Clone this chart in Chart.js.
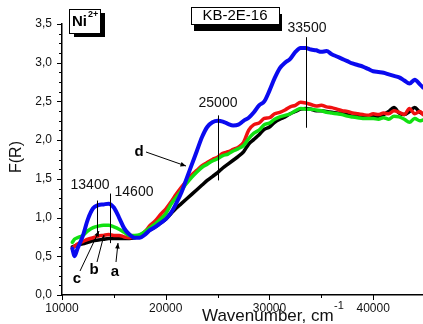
<!DOCTYPE html>
<html>
<head>
<meta charset="utf-8">
<script src="https://cdn.jsdelivr.net/npm/chart.js@4/dist/chart.umd.min.js"></script>
<style>
  html, body { margin: 0; padding: 0; background: #ffffff; }
  #wrap { width: 423px; height: 324px; }
</style>
</head>
<body>
<div id="wrap"><canvas id="specChart" width="423" height="324"></canvas></div>
<script>
// Wavenumber grid (cm-1) shared by all spectra
const wavenumbers = [11000, 11200, 11500, 12000, 12500, 13000, 13500, 14000, 14500, 15000,
  15500, 16000, 16500, 17000, 17500, 18000, 18500, 19000, 19500, 20000,
  20500, 21000, 21500, 22000, 22500, 23000, 23500, 24000, 24500, 25000,
  25500, 26000, 26500, 27000, 27500, 28000, 28500, 29000, 29500, 30000,
  30500, 31000, 31500, 32000, 32500, 33000, 33500, 34000, 34500, 35000,
  35500, 36000, 36500, 37000, 37500, 38000, 38500, 39000, 39500, 40000,
  40500, 41000, 41500, 42000, 42500, 43000, 43500, 44000, 44500, 44800];

// F(R) values
const curveA = [0.62, 0.63, 0.65, 0.66, 0.68, 0.70, 0.71, 0.72, 0.73, 0.73,
  0.73, 0.73, 0.73, 0.74, 0.76, 0.80, 0.84, 0.88, 0.93, 0.98,
  1.05, 1.12, 1.18, 1.24, 1.30, 1.36, 1.42, 1.48, 1.53, 1.58,
  1.64, 1.69, 1.74, 1.79, 1.85, 1.95, 2.01, 2.07, 2.14, 2.17,
  2.23, 2.27, 2.30, 2.34, 2.37, 2.40, 2.41, 2.40, 2.38, 2.38,
  2.37, 2.36, 2.35, 2.34, 2.33, 2.31, 2.31, 2.31, 2.30, 2.31,
  2.31, 2.33, 2.37, 2.42, 2.35, 2.33, 2.37, 2.42, 2.36, 2.34];

const curveB = [0.60, 0.63, 0.66, 0.69, 0.72, 0.74, 0.76, 0.77, 0.78, 0.77,
  0.77, 0.75, 0.74, 0.75, 0.77, 0.82, 0.90, 0.96, 1.04, 1.11,
  1.20, 1.30, 1.39, 1.47, 1.55, 1.61, 1.67, 1.71, 1.75, 1.78,
  1.83, 1.85, 1.88, 1.91, 1.97, 2.13, 2.20, 2.22, 2.28, 2.29,
  2.34, 2.36, 2.39, 2.43, 2.45, 2.49, 2.48, 2.46, 2.44, 2.45,
  2.43, 2.42, 2.40, 2.38, 2.37, 2.35, 2.34, 2.33, 2.32, 2.34,
  2.33, 2.35, 2.34, 2.38, 2.36, 2.33, 2.41, 2.34, 2.37, 2.33];

const curveC = [0.68, 0.72, 0.74, 0.77, 0.83, 0.87, 0.89, 0.90, 0.90, 0.88,
  0.85, 0.81, 0.77, 0.77, 0.78, 0.82, 0.87, 0.92, 0.98, 1.05,
  1.17, 1.26, 1.35, 1.44, 1.52, 1.59, 1.65, 1.69, 1.73, 1.76,
  1.80, 1.82, 1.86, 1.89, 1.93, 2.02, 2.09, 2.13, 2.20, 2.22,
  2.27, 2.30, 2.32, 2.34, 2.38, 2.41, 2.40, 2.40, 2.39, 2.38,
  2.36, 2.35, 2.34, 2.33, 2.31, 2.30, 2.29, 2.28, 2.28, 2.28,
  2.27, 2.29, 2.27, 2.31, 2.30, 2.27, 2.23, 2.28, 2.25, 2.26];

const curveD = [0.60, 0.50, 0.60, 0.76, 0.98, 1.12, 1.16, 1.17, 1.18, 1.13,
  1.00, 0.86, 0.78, 0.74, 0.74, 0.78, 0.84, 0.88, 0.93, 0.98,
  1.06, 1.18, 1.32, 1.50, 1.68, 1.86, 2.04, 2.17, 2.23, 2.25,
  2.24, 2.21, 2.19, 2.20, 2.25, 2.29, 2.36, 2.45, 2.50, 2.64,
  2.80, 2.93, 3.00, 3.05, 3.14, 3.19, 3.19, 3.17, 3.16, 3.14,
  3.15, 3.11, 3.08, 3.05, 3.02, 2.99, 2.97, 2.95, 2.92, 2.89,
  2.88, 2.87, 2.85, 2.83, 2.81, 2.77, 2.73, 2.78, 2.72, 2.68];

// Axis ticks
const xTicks = [10000, 20000, 30000, 40000];
const yTicks = [0, 0.5, 1.0, 1.5, 2.0, 2.5, 3.0, 3.5];

const FONT = "'Liberation Sans', Arial, sans-serif";

function toPoints(ys) {
  return wavenumbers.map(function(x, i) { return { x: x, y: ys[i] }; });
}

// Draws tick marks, axis titles, peak markers, arrows and label boxes
const decorPlugin = {
  id: 'decor',
  afterDraw: function(chart) {
    const ctx = chart.ctx;
    const xs = chart.scales.x;
    const ys = chart.scales.y;
    const area = chart.chartArea;
    const px = function(v) { return xs.getPixelForValue(v); };
    const py = function(v) { return ys.getPixelForValue(v); };

    ctx.save();
    ctx.strokeStyle = '#000';
    ctx.lineWidth = 1;

    // y ticks: major + 3 minor between
    for (let i = 0; i < yTicks.length; i++) {
      const y = Math.round(py(yTicks[i])) + 0.5;
      ctx.beginPath();
      ctx.moveTo(area.left - 5, y);
      ctx.lineTo(area.left, y);
      ctx.stroke();
      if (i < yTicks.length - 1) {
        const step = (yTicks[i + 1] - yTicks[i]) / 4;
        for (let k = 1; k < 4; k++) {
          const ym = Math.round(py(yTicks[i] + k * step)) + 0.5;
          ctx.beginPath();
          ctx.moveTo(area.left - 3, ym);
          ctx.lineTo(area.left, ym);
          ctx.stroke();
        }
      }
    }

    // x ticks: major + 1 minor between
    for (let i = 0; i < xTicks.length; i++) {
      const x = Math.round(px(xTicks[i])) + 0.5;
      ctx.beginPath();
      ctx.moveTo(x, area.bottom);
      ctx.lineTo(x, area.bottom + 5);
      ctx.stroke();
      const xm = Math.round(px(xTicks[i] + 5000)) + 0.5;
      if (xm < area.right) {
        ctx.beginPath();
        ctx.moveTo(xm, area.bottom);
        ctx.lineTo(xm, area.bottom + 3);
        ctx.stroke();
      }
    }

    // Axis titles
    ctx.fillStyle = '#111';
    ctx.font = '17px ' + FONT;
    ctx.textBaseline = 'middle';
    ctx.textAlign = 'left';
    ctx.fillText('Wavenumber, cm', 202, 316);
    ctx.font = '11px ' + FONT;
    ctx.fillText('-1', 334, 306);

    ctx.save();
    ctx.translate(17, 157);
    ctx.rotate(-Math.PI / 2);
    ctx.font = '16px ' + FONT;
    ctx.textAlign = 'center';
    ctx.fillText('F(R)', 0, 0);
    ctx.restore();

    // Peak marker lines
    const markers = [
      { x: 13400, y0: 1.22, y1: 0.79 },
      { x: 14600, y0: 1.31, y1: 0.67 },
      { x: 25000, y0: 2.32, y1: 1.48 },
      { x: 33500, y0: 3.33, y1: 2.16 }
    ];
    ctx.lineWidth = 1;
    markers.forEach(function(m) {
      const x = Math.round(px(m.x)) + 0.5;
      ctx.beginPath();
      ctx.moveTo(x, py(m.y0));
      ctx.lineTo(x, py(m.y1));
      ctx.stroke();
    });

    // Peak labels
    ctx.font = '14px ' + FONT;
    ctx.textAlign = 'center';
    ctx.fillStyle = '#111';
    ctx.fillText('13400', 90, 185);
    ctx.fillText('14600', 134, 192);
    ctx.fillText('25000', 218, 103);
    ctx.fillText('33500', 307, 28);

    // Curve letters with arrows
    function arrow(x0, y0, x1, y1) {
      ctx.beginPath();
      ctx.moveTo(x0, y0);
      ctx.lineTo(x1, y1);
      ctx.stroke();
      const ang = Math.atan2(y1 - y0, x1 - x0);
      ctx.beginPath();
      ctx.moveTo(x1, y1);
      ctx.lineTo(x1 - 6 * Math.cos(ang - 0.4), y1 - 6 * Math.sin(ang - 0.4));
      ctx.lineTo(x1 - 6 * Math.cos(ang + 0.4), y1 - 6 * Math.sin(ang + 0.4));
      ctx.closePath();
      ctx.fill();
    }
    ctx.fillStyle = '#000';
    ctx.font = 'bold 15px ' + FONT;
    ctx.fillText('d', 139, 152);
    ctx.fillText('c', 77, 279);
    ctx.fillText('b', 94, 270);
    ctx.fillText('a', 115, 272);
    arrow(146, 152, 186, 166);
    arrow(80, 271, 99, 231);
    arrow(97, 262, 104, 235);
    arrow(116, 262, 118, 243);

    // Label boxes with drop shadow
    function box(x, y, w, h, dx, dy) {
      ctx.fillStyle = '#000';
      ctx.fillRect(x + dx, y + dy, w, h);
      ctx.fillStyle = '#fff';
      ctx.fillRect(x, y, w, h);
      ctx.strokeStyle = '#000';
      ctx.lineWidth = 1;
      ctx.strokeRect(x + 0.5, y + 0.5, w, h);
    }
    box(69, 9, 31, 24, 5, 4);
    ctx.fillStyle = '#000';
    ctx.textAlign = 'left';
    ctx.font = 'bold 15px ' + FONT;
    ctx.fillText('Ni', 72, 22);
    ctx.font = 'bold 9px ' + FONT;
    ctx.fillText('2+', 88, 15);

    box(191, 7, 88, 17, 3, 7);
    ctx.fillStyle = '#000';
    ctx.textAlign = 'center';
    ctx.font = '15px ' + FONT;
    ctx.fillText('KB-2E-16', 235, 16);

    ctx.restore();
  }
};

const ctx = document.getElementById('specChart').getContext('2d');

new Chart(ctx, {
  type: 'line',
  data: {
    datasets: [
      { label: 'd', data: toPoints(curveD), borderColor: '#0a0aef', borderWidth: 4, order: 0 },
      { label: 'c', data: toPoints(curveC), borderColor: '#11e011', borderWidth: 3.5, order: 1 },
      { label: 'b', data: toPoints(curveB), borderColor: '#f01010', borderWidth: 3.5, order: 2 },
      { label: 'a', data: toPoints(curveA), borderColor: '#000000', borderWidth: 3.5, order: 3 }
    ]
  },
  options: {
    responsive: false,
    animation: false,
    devicePixelRatio: 1,
    elements: {
      point: { radius: 0 },
      line: { cubicInterpolationMode: 'monotone', borderJoinStyle: 'round', borderCapStyle: 'round' }
    },
    layout: { padding: { top: 24, right: 0, bottom: 0, left: 0 } },
    plugins: {
      legend: { display: false },
      tooltip: { enabled: false }
    },
    scales: {
      x: {
        type: 'linear',
        min: 10000,
        max: 44800,
        afterBuildTicks: function(scale) {
          scale.ticks = xTicks.map(function(v) { return { value: v }; });
        },
        afterFit: function(scale) { scale.height = 29; },
        grid: { display: false },
        border: { display: true, color: '#000', width: 1.5 },
        ticks: {
          padding: -2,
          maxRotation: 0,
          color: '#111',
          font: { family: FONT, size: 12 },
          callback: function(v) { return String(v); }
        }
      },
      y: {
        type: 'linear',
        min: 0,
        max: 3.5,
        afterBuildTicks: function(scale) {
          scale.ticks = yTicks.map(function(v) { return { value: v }; });
        },
        afterFit: function(scale) { scale.width = 62; },
        grid: { display: false },
        border: { display: true, color: '#000', width: 1.5 },
        ticks: {
          padding: 2,
          color: '#111',
          font: { family: FONT, size: 12 },
          callback: function(v) { return v.toFixed(1).replace('.', ','); }
        }
      }
    }
  },
  plugins: [decorPlugin]
});
</script>
</body>
</html>
